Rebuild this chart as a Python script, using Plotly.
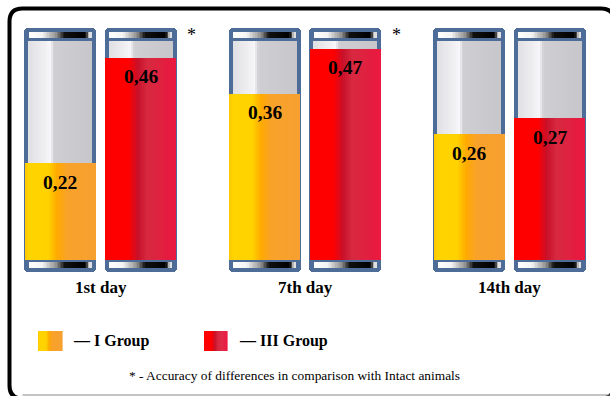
import plotly.graph_objects as go

# ---------------- data ----------------
days = ["1st day", "7th day", "14th day"]
group_names = ["I Group", "III Group"]
group1_values = [0.22, 0.36, 0.26]          # printed values, I Group
group3_values = [0.46, 0.47, 0.27]          # printed values, III Group
group1_levels = [0.215, 0.37, 0.28]         # liquid level as drawn, I Group
group3_levels = [0.45, 0.47, 0.315]         # liquid level as drawn, III Group
significant = [True, True, False]           # asterisk markers
footnote = "* - Accuracy of differences in comparison with Intact animals"

# ---------------- styling ----------------
W, H = 610, 396
FRAME = "#4E6C98"
SERIF = "Liberation Serif, Times New Roman, serif"
glass_scale = [(0, "#E0E0E4"), (0.30, "#F2F2F4"), (0.35, "#F7F7F9"), (0.41, "#CFCFD3"), (1, "#C7C7CB")]
cap_scale = [(0, "#FFFFFF"), (0.22, "#F4F4F4"), (0.45, "#8C8C8C"), (0.58, "#101010"), (0.9, "#000000"),
             (0.94, "#4A4A4A"), (0.97, "#D8D8D8"), (1, "#E6E6E6")]
yellow_scale = [(0, "#FFC400"), (0.05, "#FFD400"), (0.34, "#FFD200"), (0.46, "#FFAA00"), (0.6, "#F9A22A"), (1, "#F6A030")]
red_scale = [(0, "#FF0000"), (0.34, "#FF0000"), (0.47, "#C8102A"), (0.6, "#D6293F"), (1, "#EA1840")]

XPX = 204.5        # pixels per category unit
YPX = 450.0        # pixels per value unit
x_range = [-100.5 / XPX, (W - 100.5) / XPX]
y_range = [-(H - 260) / YPX, 260 / YPX]
tube_off = 40.25 / XPX
tube_w = 72 / XPX
glass_w = 63 / XPX
liquid_w = 70 / XPX
strip_w = 62 / XPX
frame_top, frame_bot = 232 / YPX, -11.7 / YPX
glass_top = 219.5 / YPX
cap_top, cap_bot = 228.5 / YPX, 222.5 / YPX
bcap_top, bcap_bot = -2.3 / YPX, -7.7 / YPX


def hex2rgb(h):
    h = h.lstrip("#")
    return [int(h[i:i + 2], 16) for i in (0, 2, 4)]


def interp(scale, t):
    for (p0, c0), (p1, c1) in zip(scale[:-1], scale[1:]):
        if p0 <= t <= p1:
            f = 0 if p1 == p0 else (t - p0) / (p1 - p0)
            a, b = hex2rgb(c0), hex2rgb(c1)
            return "rgb(%d,%d,%d)" % tuple(round(a[i] + (b[i] - a[i]) * f) for i in range(3))
    return scale[-1][1]


def strip_trace(centers, bases, tops, width, scales, n=36):
    xs, ys, bs, cs = [], [], [], []
    step = width / n
    for c, b, t, sc in zip(centers, bases, tops, scales):
        for k in range(n):
            xs.append(c - width / 2 + step * (k + 0.5))
            ys.append(t - b)
            bs.append(b)
            cs.append(interp(sc, (k + 0.5) / n))
    return go.Bar(x=xs, y=ys, base=bs, width=step * 1.6, marker=dict(color=cs, line=dict(width=0)),
                  hoverinfo="skip", showlegend=False)


centers, levels, values, lscales = [], [], [], []
for i in range(len(days)):
    centers += [i - tube_off, i + tube_off]
    levels += [group1_levels[i], group3_levels[i]]
    values += [group1_values[i], group3_values[i]]
    lscales += [yellow_scale, red_scale]
nt = len(centers)

fig = go.Figure()
# tube frames
fig.add_trace(go.Bar(x=centers, y=[frame_top - frame_bot] * nt, base=[frame_bot] * nt, width=tube_w,
                     marker=dict(color=FRAME, line=dict(width=0), cornerradius=4),
                     hoverinfo="skip", showlegend=False))
# glass
fig.add_trace(strip_trace(centers, [0] * nt, [glass_top] * nt, glass_w, [glass_scale] * nt))
# liquid
fig.add_trace(strip_trace(centers, [0] * nt, levels, liquid_w, lscales))
# caps
fig.add_trace(strip_trace(centers, [cap_bot] * nt, [cap_top] * nt, strip_w, [cap_scale] * nt, n=40))
fig.add_trace(strip_trace(centers, [bcap_bot] * nt, [bcap_top] * nt, strip_w, [cap_scale] * nt, n=40))

annotations = []
for c, lv, v in zip(centers, levels, values):
    annotations.append(dict(x=c, y=lv, yshift=-19, text=f"{v:.2f}".replace(".", ","), showarrow=False,
                            font=dict(family=SERIF, size=19.5, color="black", weight="bold"),
                            xanchor="center", yanchor="middle"))
for i, d in enumerate(days):
    annotations.append(dict(x=i, y=-27 / YPX, text=d, showarrow=False,
                            font=dict(family=SERIF, size=17, color="black", weight="bold"),
                            xanchor="center", yanchor="middle"))
    if significant[i]:
        annotations.append(dict(x=i + 0.447, y=225 / YPX, text="*", showarrow=False,
                                font=dict(family=SERIF, size=18, color="black"),
                                xanchor="center", yanchor="middle"))


def px(xp):
    return xp / W


def py(yp):
    return 1 - yp / H


shapes = []
# legend swatches
for (x0, x1), sc in zip([(38, 62), (204, 227)], [yellow_scale, red_scale]):
    n = 24
    stp = (x1 - x0) / n
    for k in range(n):
        shapes.append(dict(type="rect", xref="paper", yref="paper",
                           x0=px(x0 + k * stp), x1=px(x0 + (k + 1) * stp + 0.6),
                           y0=py(351), y1=py(331), line=dict(width=0),
                           fillcolor=interp(sc, (k + 0.5) / n)))
for xl, name in zip([71, 237], group_names):
    annotations.append(dict(x=px(xl), y=py(341), xref="paper", yref="paper", text="— " + name,
                            showarrow=False, xanchor="left", yanchor="middle",
                            font=dict(family=SERIF, size=16, color="black", weight="bold")))
annotations.append(dict(x=px(127), y=py(375), xref="paper", yref="paper", text=footnote,
                        showarrow=False, xanchor="left", yanchor="middle",
                        font=dict(family=SERIF, size=13.4, color="black")))

# rounded outer border (right and bottom edges fall just outside the picture)
L, T, R, B, r = 9.5, 8.5, 614, 398.5, 13
path = (f"M {px(L + r)},{py(T)} L {px(R - r)},{py(T)} Q {px(R)},{py(T)} {px(R)},{py(T + r)} "
        f"L {px(R)},{py(B - r)} Q {px(R)},{py(B)} {px(R - r)},{py(B)} "
        f"L {px(L + r)},{py(B)} Q {px(L)},{py(B)} {px(L)},{py(B - r)} "
        f"L {px(L)},{py(T + r)} Q {px(L)},{py(T)} {px(L + r)},{py(T)} Z")
shapes.append(dict(type="path", xref="paper", yref="paper", path=path, line=dict(color="black", width=4)))
shapes.append(dict(type="line", xref="paper", yref="paper", x0=px(L + r), x1=px(W),
                   y0=py(395), y1=py(395), line=dict(color="#8a8a8a", width=1.2)))

fig.update_layout(
    width=W, height=H, autosize=False,
    margin=dict(l=0, r=0, t=0, b=0),
    paper_bgcolor="white", plot_bgcolor="white",
    barmode="overlay", bargap=0,
    xaxis=dict(range=x_range, visible=False, fixedrange=True),
    yaxis=dict(range=y_range, visible=False, fixedrange=True),
    annotations=annotations, shapes=shapes, showlegend=False,
)
fig.write_html("out.html", config={"displayModeBar": False},
               post_script="document.body.style.margin='0';document.body.style.overflow='hidden';")
